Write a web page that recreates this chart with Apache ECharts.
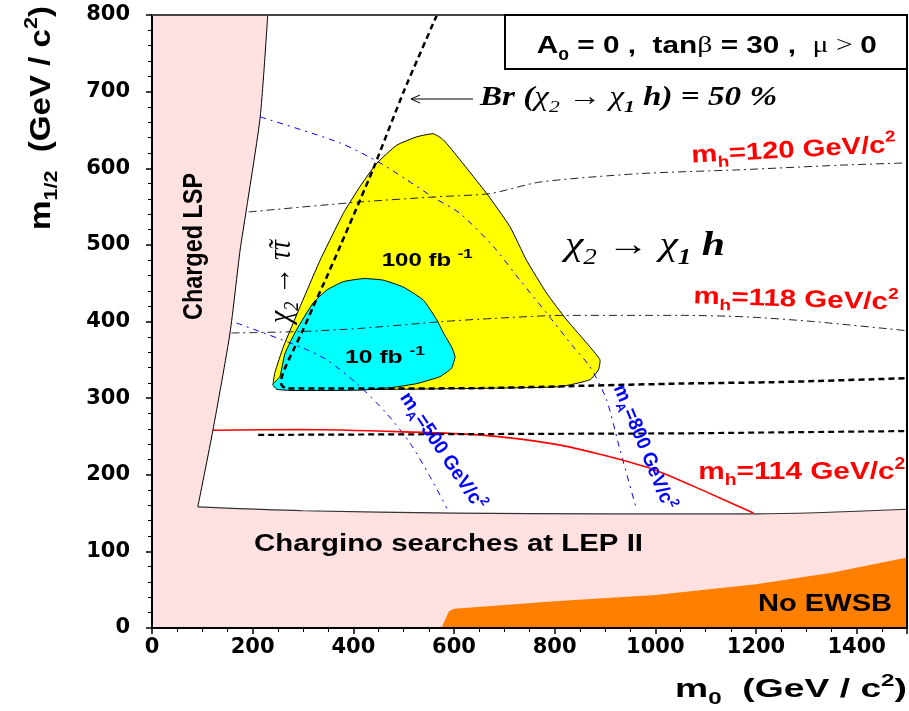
<!DOCTYPE html>
<html><head><meta charset="utf-8">
<script src="https://cdn.jsdelivr.net/npm/echarts@6/dist/echarts.min.js"></script>
<style>html,body{margin:0;padding:0;background:#fff}#c{width:909px;height:711px}</style>
</head><body><div id="c"></div>
<script>
// ---------- data (m0, m1/2) in GeV/c^2 ----------
const xTicks = [0, 200, 400, 600, 800, 1000, 1200, 1400];
const yTicks = [0, 100, 200, 300, 400, 500, 600, 700, 800];
const allowedLeft = [[91,158],[121,258],[155,385],[175,493],[187,544],[215,667],[230,800]];
const allowedBottom = [[91,158],[300,153],[600,150],[900,149],[1200,149],[1500,155]];
const noEWSB = [[575,0],[590,22],[600,25],[800,35],[1000,43],[1200,57],[1350,72],[1500,92],[1500,0]];
const reach100 = [[241,319],[244,333],[261,367],[294,419],[334,480],[380,541],[413,576],[446,606],[486,630],[526,641],[559,645],[579,637],[612,611],[665,567],[711,524],[744,480],[784,437],[824,402],[870,367],[890,350],[887,337],[870,324],[811,315],[678,313],[479,311.5],[281,310.5],[248,313]];
const reach10 = [[240,318],[254,328],[264,358],[287,389],[320,424],[347,441],[380,452],[420,456],[459,454],[499,445],[539,428],[566,402],[579,385],[595,367],[602,354],[595,339],[572,328],[526,319],[479,314],[413,310.5],[281,310],[248,311.5]];
const br50 = [[566,800],[500,700],[440,600],[375,500],[345,455],[320,419],[300,389],[281,363],[268,345],[258,328],[257,318],[265,313],[290,312.5],[650,313],[850,316],[1050,319],[1250,321],[1500,326]];
const chiZ = [[211,252],[600,253],[1050,254],[1500,257]];
const mh114 = [[121,258],[300,259],[500,256],[650,252],[800,240],[900,225],[1000,206],[1100,178],[1195,150]];
const mh118 = [[158,385],[300,387],[413,391],[579,400],[678,404],[817,408],[1049,408],[1181,406],[1313,400],[1500,388]];
const mh120 = [[192,543],[413,556],[572,563],[672,567],[771,582],[969,593],[1168,598],[1367,604],[1500,607]];
const mA800 = [[215,667],[374,633],[453,607],[506,585],[559,562],[612,541],[678,498],[731,454],[784,411],[837,367],[870,341],[903,298],[930,232],[963,154]];
const mA500 = [[168,398],[294,367],[347,350],[407,319],[466,280],[513,241],[552,198],[586,156]];

const PINK = '#ffe1e1', ORANGE = '#ff8000', YELLOW = '#ffff00', CYAN = '#00ffff';

const allowedRegion = allowedLeft.concat([[1500,800]], allowedBottom.slice().reverse());
const fullArea = [[0,0],[1500,0],[1500,800],[0,800]];

function polySeries(pts, fill, stroke, lw, smooth) {
  return {
    type: 'custom', silent: true, animation: false,
    data: pts, encode: {x: 0, y: 1},
    renderItem: function (params, api) {
      if (params.dataIndex !== 0) return null;
      const points = pts.map(p => api.coord(p));
      return {type: 'polygon', shape: {points: points, smooth: smooth || 0},
        style: {fill: fill, stroke: stroke || null, lineWidth: lw || 0}};
    }
  };
}
function lineSeries(pts, color, width, type, smooth) {
  return {type: 'line', data: pts, showSymbol: false, symbol: 'none', silent: true,
    animation: false, smooth: smooth === undefined ? 0.25 : smooth,
    lineStyle: {color: color, width: width, type: type || 'solid'}};
}

// ---------- text helpers ----------
const SANS = 'Liberation Sans', SERIF = 'Liberation Serif';
const mctx = document.createElement('canvas').getContext('2d');
function tok(text, o) { return Object.assign({text: text, family: SANS, weight: 'bold', fstyle: 'normal', rel: 1, va: 'middle'}, o || {}); }
const SUB = {rel: 0.65, va: 'bottom'}, SUP = {rel: 0.65, va: 'top'};
function buildLabel(sp) {
  const L = (sp.Lf || 1.35) * sp.S;
  let nat = 0, str = '';
  const rich = {};
  sp.tokens.forEach((t, i) => {
    const fs = Math.round(sp.S * t.rel * 10) / 10;
    mctx.font = t.fstyle + ' ' + t.weight + ' ' + fs + 'px "' + t.family + '"';
    nat += mctx.measureText(t.text).width;
    const col = t.color || sp.color || '#000';
    rich['t' + i] = {fontSize: fs, fontFamily: t.family, fontWeight: t.weight, fontStyle: t.fstyle,
      fill: col, color: col, lineHeight: t.va === 'middle' ? L : fs, verticalAlign: t.va};
    str += '{t' + i + '|' + t.text + '}';
  });
  const sx = sp.len / nat, sy = sp.sy || 1;
  const th = (sp.rot || 0) * Math.PI / 180;
  const b0 = 0.31 * sp.S * sy;
  return {type: 'text', x: sp.ax - b0 * Math.sin(th), y: sp.ay - b0 * Math.cos(th),
    rotation: th, scaleX: sx, scaleY: sy, silent: true, z: 100,
    style: {text: str, rich: rich, align: 'left', verticalAlign: 'middle'}};
}
const serI = {family: SERIF, fstyle: 'italic', weight: 'normal'};
const serN = {family: SERIF, weight: 'normal'};
const labels = [
  {tokens: [tok('A'), tok('0', SUB), tok(' = 0 ,  tan'), tok('β', serN), tok(' = 30 ,  '), tok('μ', serN), tok(' > ', serN), tok('0')],
   S: 23, ax: 536.7, ay: 53.3, len: 340, Lf: 1.5},
  {tokens: [tok('Br (', {family: SERIF, fstyle: 'italic'}), tok('χ', serI), tok('2', Object.assign({}, serI, SUB)),
            tok(' → ', serN), tok('χ', serI), tok('1', Object.assign({family: SERIF, fstyle: 'italic'}, SUB)),
            tok(' h) = 50 %', {family: SERIF, fstyle: 'italic'})],
   S: 27, ax: 480, ay: 106.7, len: 297},
  {tokens: [tok('χ', serI), tok('2', Object.assign({}, serI, SUB)), tok(' → ', serN), tok('χ', serI),
            tok('1', Object.assign({family: SERIF, fstyle: 'italic'}, SUB)), tok(' ', serN), tok('h', {family: SERIF, fstyle: 'italic'})],
   S: 34, ax: 565, ay: 256.7, len: 160},
  {tokens: [tok('m'), tok('h', SUB), tok('=120 GeV/c'), tok('2', SUP)], color: '#ff0000', S: 24, ax: 691.7, ay: 163.3, len: 205, rot: 3},
  {tokens: [tok('m'), tok('h', SUB), tok('=118 GeV/c'), tok('2', SUP)], color: '#ff0000', S: 24, ax: 693.3, ay: 304, len: 205, rot: -1.8},
  {tokens: [tok('m'), tok('h', SUB), tok('=114 GeV/c'), tok('2', SUP)], color: '#ff0000', S: 24, ax: 698.3, ay: 480, len: 207},
  {tokens: [tok('100 fb '), tok('-1', {rel: 0.7, va: 'top'})], S: 19, ax: 381.7, ay: 266.7, len: 91},
  {tokens: [tok('10 fb '), tok('-1', {rel: 0.7, va: 'top'})], S: 19, ax: 345, ay: 363.3, len: 80},
  {tokens: [tok('Chargino searches at LEP II')], S: 23, ax: 254, ay: 551.7, len: 389},
  {tokens: [tok('No EWSB')], S: 23, ax: 758, ay: 611.7, len: 134},
  {tokens: [tok('m'), tok('0', SUB), tok('  (GeV / c'), tok('2', SUP), tok(')')], S: 26, ax: 675, ay: 698.3, len: 232},
  {tokens: [tok('m'), tok('1/2', SUB), tok('  (GeV / c'), tok('2', SUP), tok(')')], S: 26, ax: 51, ay: 230, len: 224, rot: 90, sy: 1.1},
  {tokens: [tok('Charged LSP')], S: 22, ax: 203, ay: 320, len: 147, rot: 90, sy: 1.27},
  {tokens: [tok('χ', serI), tok('2', Object.assign({}, serI, SUB)), tok(' → ', serN), tok('τ\u0303τ', serI)],
   S: 26, ax: 291, ay: 323, len: 83, rot: 90, sy: 1.2},
  {tokens: [tok('m'), tok('A', SUB), tok('=500 GeV/c'), tok('2', SUP)], color: '#0000ff', S: 18, ax: 399, ay: 398, len: 137, rot: -56, sy: 1.1},
  {tokens: [tok('m'), tok('A', SUB), tok('=800 GeV/c'), tok('2', SUP)], color: '#0000ff', S: 18, ax: 613, ay: 388, len: 133, rot: -67.6, sy: 1.1}
];

const chart = echarts.init(document.getElementById('c'), null, {renderer: 'canvas'});
const axisFont = {color: '#000', fontWeight: 'bold', fontSize: 21, fontFamily: 'DejaVu Sans'};
const DASH = [6, 4], DASHDOT = [8, 4, 2, 4], BLUEDD = [6, 5, 2, 5];
chart.setOption({
  animation: false,
  backgroundColor: '#fff',
  grid: {left: 152, right: 2, top: 15, bottom: 83},
  xAxis: [{
    type: 'value', min: 0, max: 1500, interval: 200, z: 10,
    axisLine: {show: true, onZero: false, lineStyle: {color: '#000', width: 2}},
    axisTick: {show: true, length: 6, lineStyle: {color: '#000', width: 1.5}},
    minorTick: {show: true, splitNumber: 4, length: 4, lineStyle: {color: '#000', width: 1}},
    splitLine: {show: false},
    axisLabel: Object.assign({margin: 9, showMaxLabel: false,
      formatter: v => xTicks.indexOf(v) >= 0 ? String(v) : ''}, axisFont)
  }, {
    type: 'value', position: 'top', min: 0, max: 1500, z: 10,
    axisLine: {show: true, onZero: false, lineStyle: {color: '#444', width: 2}},
    axisTick: {show: false}, axisLabel: {show: false}, splitLine: {show: false}
  }],
  yAxis: [{
    type: 'value', min: 0, max: 800, interval: 100, z: 10,
    axisLine: {show: true, onZero: false, lineStyle: {color: '#000', width: 2}},
    axisTick: {show: true, length: 6, lineStyle: {color: '#000', width: 1.5}},
    minorTick: {show: true, splitNumber: 5, length: 4, lineStyle: {color: '#000', width: 1}},
    splitLine: {show: false},
    axisLabel: Object.assign({margin: 22, formatter: v => yTicks.indexOf(v) >= 0 ? String(v) : ''}, axisFont)
  }, {
    type: 'value', position: 'right', min: 0, max: 800, z: 10,
    axisLine: {show: true, onZero: false, lineStyle: {color: '#000', width: 2}},
    axisTick: {show: false}, axisLabel: {show: false}, splitLine: {show: false}
  }],
  series: [
    polySeries(fullArea, PINK),
    polySeries(allowedRegion, '#ffffff'),
    lineSeries(allowedLeft, '#000', 1, 'solid', 0.2),
    lineSeries(allowedBottom, '#333', 1.2, 'solid', 0.3),
    polySeries(noEWSB, ORANGE),
    polySeries(reach100, YELLOW, '#000', 1, 0.15),
    polySeries(reach10, CYAN, '#000', 1, 0.15),
    lineSeries(mh120, '#222', 1, DASHDOT),
    lineSeries(mh118, '#222', 1, DASHDOT),
    lineSeries(mA800, '#0000ff', 1, BLUEDD),
    lineSeries(mA500, '#0000ff', 1, BLUEDD),
    lineSeries(mh114, '#ff0000', 1.6, 'solid'),
    lineSeries(chiZ, '#000', 2.2, DASH, 0),
    lineSeries(br50, '#000', 2.5, DASH, 0.2)
  ],
  graphic: [
    {type: 'rect', z: 90, silent: true, shape: {x: 505, y: 15, width: 402, height: 54},
     style: {fill: '#fff', stroke: '#000', lineWidth: 2}},
    {type: 'line', z: 90, silent: true, shape: {x1: 411, y1: 99, x2: 473, y2: 99}, style: {stroke: '#000', lineWidth: 1}},
    {type: 'polyline', z: 90, silent: true, shape: {points: [[420, 95], [411, 99], [420, 103]]}, style: {stroke: '#000', lineWidth: 1, fill: null}}
  ].concat(labels.map(buildLabel))
});
</script></body></html>
